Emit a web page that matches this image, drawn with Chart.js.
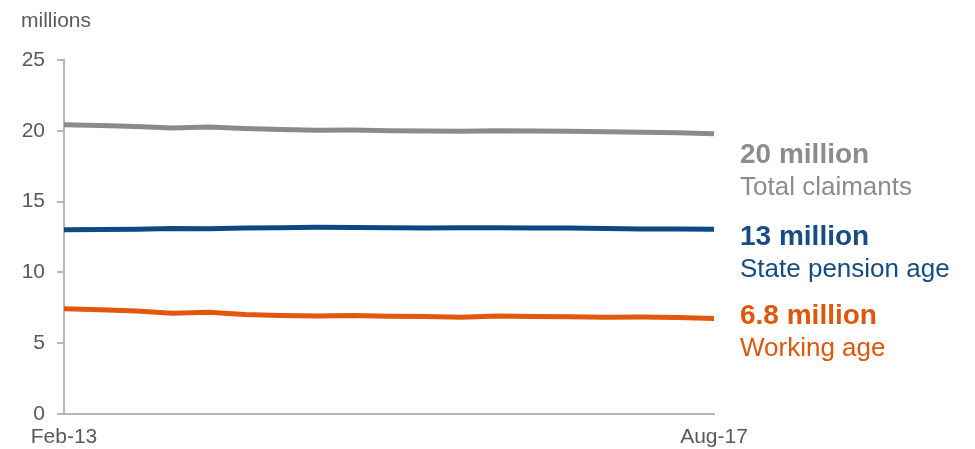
<!DOCTYPE html>
<html>
<head>
<meta charset="utf-8">
<style>
  html, body { margin: 0; padding: 0; background: #fff; }
  #wrap { width: 975px; height: 449px; position: relative; }
</style>
<script src="https://cdn.jsdelivr.net/npm/chart.js@4"></script>
</head>
<body>
<div id="wrap"><canvas id="grafico" width="975" height="449"></canvas></div>
<script>
// quarterly, Feb-13 to Aug-17
const meses = ['Feb-13', 'May-13', 'Aug-13', 'Nov-13', 'Feb-14', 'May-14', 'Aug-14', 'Nov-14',
  'Feb-15', 'May-15', 'Aug-15', 'Nov-15', 'Feb-16', 'May-16', 'Aug-16', 'Nov-16',
  'Feb-17', 'May-17', 'Aug-17'];

const totalClaimants = [20.43, 20.37, 20.31, 20.19, 20.26, 20.17, 20.09, 20.04, 20.05, 20.01,
  19.99, 19.96, 20.0, 19.98, 19.96, 19.93, 19.9, 19.86, 19.79];
const statePensionAge = [13.02, 13.03, 13.05, 13.10, 13.09, 13.13, 13.16, 13.19, 13.17, 13.15,
  13.14, 13.16, 13.15, 13.14, 13.13, 13.10, 13.07, 13.06, 13.05];
const workingAge = [7.43, 7.37, 7.28, 7.12, 7.19, 7.02, 6.96, 6.92, 6.95, 6.91,
  6.89, 6.84, 6.92, 6.89, 6.86, 6.84, 6.85, 6.82, 6.74];

const yTicks = [0, 5, 10, 15, 20, 25];

// right-hand labels: [bold headline, description, colour]
const rotulos = [
  ['20 million', 'Total claimants', '#8c8c8e'],
  ['13 million', 'State pension age', '#164c86'],
  ['6.8 million', 'Working age', '#e0570c']
];

const cinza = '#8a8a8d';
const azul = '#0d4a85';
const laranja = '#e2570b';
const eixo = '#b7b7b7';
const textoEixo = '#595959';
const fonte = '"Liberation Sans", Arial, sans-serif';

const textos = {
  id: 'textos',
  afterDraw(chart) {
    const ctx = chart.ctx;
    const area = chart.chartArea;
    ctx.save();
    ctx.textAlign = 'left';
    ctx.textBaseline = 'alphabetic';
    ctx.fillStyle = textoEixo;
    ctx.font = '21px ' + fonte;
    ctx.fillText('millions', 21, 27);

    const x = area.right + 26;
    const linhas = [163, 245, 324];
    rotulos.forEach((r, i) => {
      ctx.fillStyle = r[2];
      ctx.font = 'bold 28px ' + fonte;
      ctx.fillText(r[0], x, linhas[i]);
      ctx.font = '26px ' + fonte;
      ctx.fillText(r[1], x, linhas[i] + 32);
    });
    ctx.restore();
  }
};

const serie = (label, data, cor) => ({
  label, data,
  borderColor: cor,
  borderWidth: 5,
  pointRadius: 0,
  tension: 0,
  fill: false
});

new Chart(document.getElementById('grafico'), {
  type: 'line',
  data: {
    labels: meses,
    datasets: [
      serie('Total claimants', totalClaimants, cinza),
      serie('State pension age', statePensionAge, azul),
      serie('Working age', workingAge, laranja)
    ]
  },
  options: {
    responsive: false,
    animation: false,
    layout: { padding: { top: 60, right: 261, left: 0, bottom: 0 } },
    plugins: { legend: { display: false }, tooltip: { enabled: false } },
    scales: {
      x: {
        offset: false,
        afterFit: s => { s.height = 35; },
        grid: { display: false, drawTicks: false },
        border: { color: eixo, width: 2 },
        ticks: {
          autoSkip: false,
          maxRotation: 0,
          padding: 11,
          color: textoEixo,
          font: { family: fonte, size: 21 },
          callback: (v, i) => (i === 0 || i === meses.length - 1) ? meses[i] : ''
        }
      },
      y: {
        min: 0,
        max: 25,
        afterFit: s => { s.width = 64; },
        afterBuildTicks: s => { s.ticks = yTicks.map(v => ({ value: v })); },
        grid: { drawOnChartArea: false, color: eixo, lineWidth: 2, tickLength: 7 },
        border: { color: eixo, width: 2 },
        ticks: {
          padding: 12,
          color: textoEixo,
          font: { family: fonte, size: 21 }
        }
      }
    }
  },
  plugins: [textos]
});
</script>
</body>
</html>
